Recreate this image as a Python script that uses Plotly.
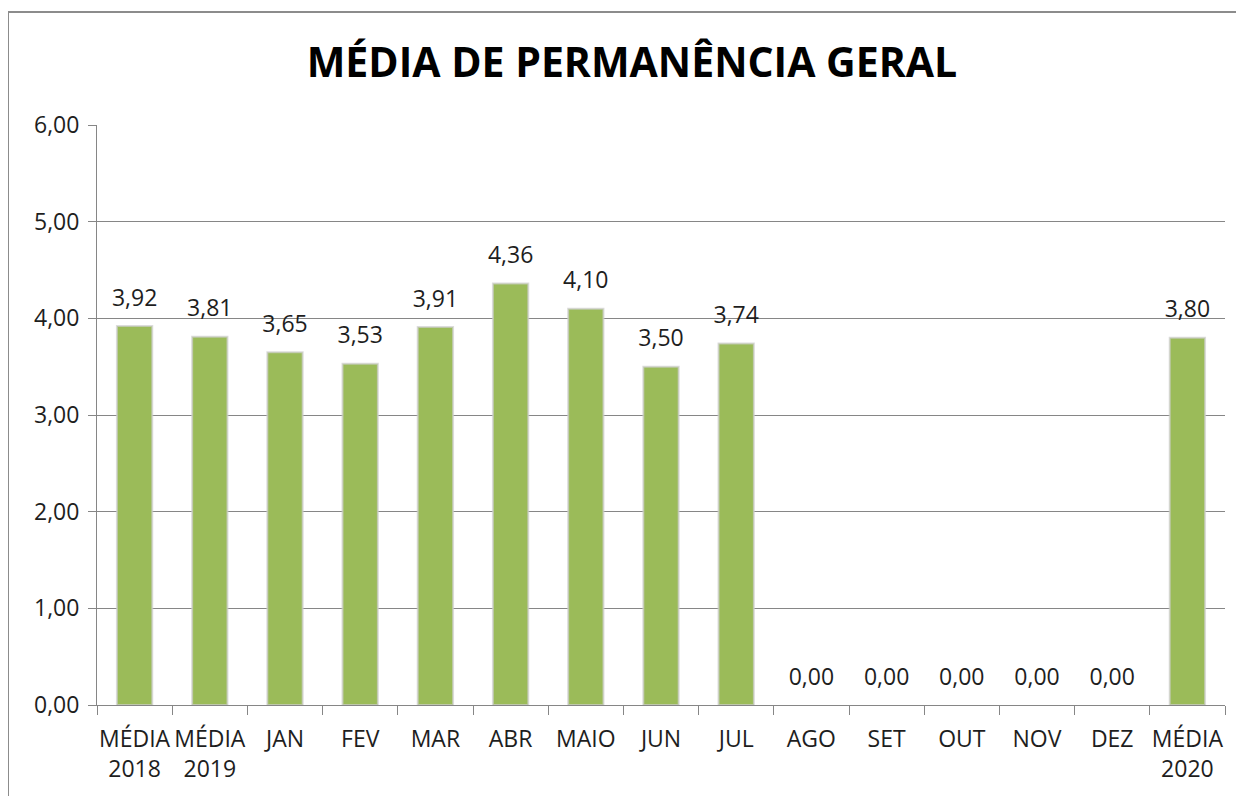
import plotly.graph_objects as go

# categories and values
categorias = [
    "MÉDIA<br>2018", "MÉDIA<br>2019", "JAN", "FEV", "MAR", "ABR", "MAIO",
    "JUN", "JUL", "AGO", "SET", "OUT", "NOV", "DEZ", "MÉDIA<br>2020",
]
valores = [3.92, 3.81, 3.65, 3.53, 3.91, 4.36, 4.10, 3.50, 3.74,
           0.00, 0.00, 0.00, 0.00, 0.00, 3.80]
y_ticks = [0, 1, 2, 3, 4, 5, 6]

VERDE = "#9BBB59"
GRADE = "#868686"
FONTE = "Open Sans"
TEXTO = "#1E1E1E"
TAM = 23

# the page body adds an 8px offset, so work in page pixels minus 8
OFF = 8
L, R, T, B = 97 - OFF, 1225 - OFF, 125 - OFF, 705 - OFF
W, H = 1244 - OFF, 796 - OFF
pw, ph = R - L, B - T

fig = go.Figure()
fig.add_trace(
    go.Bar(
        x=categorias,
        y=valores,
        marker=dict(
            color=VERDE,
            # soft grey edge like Excel's bar shadow, none on empty months
            line=dict(
                color="rgba(205,205,205,0.7)",
                width=[2 if v > 0 else 0 for v in valores],
            ),
        ),
        hoverinfo="skip",
    )
)
# value labels floated a little above each bar
fig.add_trace(
    go.Scatter(
        x=categorias,
        y=valores,
        mode="markers+text",
        marker=dict(size=22, color="rgba(0,0,0,0)"),
        texttemplate="%{y:.2f}",
        textposition="top center",
        textfont=dict(family=FONTE, size=TAM, color=TEXTO),
        cliponaxis=False,
        hoverinfo="skip",
    )
)

fig.update_layout(
    width=W,
    height=H,
    margin=dict(l=L, r=W - R, t=T, b=H - B, pad=0),
    paper_bgcolor="white",
    plot_bgcolor="white",
    separators=",.",
    bargap=0.53,
    showlegend=False,
    title=dict(
        text="<b>MÉDIA DE PERMANÊNCIA GERAL</b>",
        x=(632 - OFF) / W,
        xanchor="center",
        y=1 - (63 - OFF) / H,
        yanchor="middle",
        font=dict(family=FONTE, size=41, color="black"),
    ),
    font=dict(family=FONTE, size=TAM, color=TEXTO),
    shapes=[
        # Excel chart frame, runs past the picture on the right and bottom
        dict(
            type="rect", xref="paper", yref="paper",
            x0=(8 - OFF - L) / pw, x1=(W + 30 - L) / pw,
            y0=(B - (H + 30)) / ph, y1=(B - (12 - OFF)) / ph,
            line=dict(color="#8C8C8C", width=2), layer="below",
        )
    ],
)

fig.update_xaxes(
    range=[-0.5, len(categorias) - 0.5],
    autorange=False,
    tickangle=0,
    showline=True,
    linecolor=GRADE,
    linewidth=1,
    ticks="outside",
    tickson="boundaries",
    ticklen=9,
    tickcolor=GRADE,
    showgrid=False,
    ticklabelstandoff=13,
    tickfont=dict(family=FONTE, size=TAM, color=TEXTO),
)
fig.update_yaxes(
    range=[0, 6],
    tickvals=y_ticks,
    tickformat=".2f",
    showline=True,
    linecolor=GRADE,
    linewidth=1,
    ticks="outside",
    ticklen=8,
    tickcolor=GRADE,
    showgrid=True,
    gridcolor=GRADE,
    gridwidth=1,
    zeroline=False,
    ticklabelstandoff=4,
    tickfont=dict(family=FONTE, size=TAM, color=TEXTO),
)

fig.write_html("out.html")
